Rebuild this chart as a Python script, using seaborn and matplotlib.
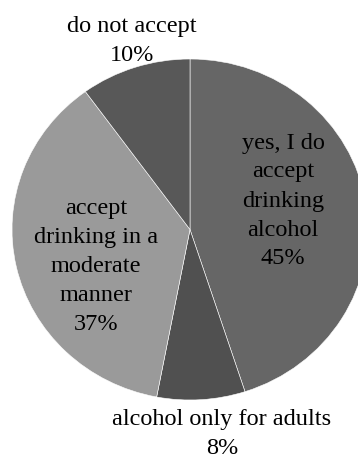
import matplotlib
matplotlib.use("Agg")
import matplotlib.pyplot as plt
import seaborn as sns

# Survey answers, clockwise from the top
answers = ["yes, I do\naccept\ndrinking\nalcohol",
           "alcohol only for adults",
           "accept\ndrinking in a\nmoderate\nmanner",
           "do not accept"]
shares = [45, 8, 37, 10]
greys = ["#666666", "#505050", "#9a9a9a", "#585858"]

# label centres in figure pixels (x from left, y from top)
label_pos = [(283, 201), (222, 434), (96, 266.5), (132, 41)]

sns.set_theme(style="white")
plt.rcParams["font.family"] = ["Liberation Serif", "DejaVu Serif"]

W, H = 358, 459
fig = plt.figure(figsize=(W / 100, H / 100), dpi=100)
fig.patch.set_facecolor("white")

# pie box: centre (190, 229.5) px, radii 178 x 170.5 px
cx, cy, rx, ry = 190, 229.5, 178, 170.5
ax = fig.add_axes([(cx - rx) / W, (H - (cy + ry)) / H, 2 * rx / W, 2 * ry / H])
palette = sns.color_palette(greys)
ax.pie(shares, colors=palette, startangle=90, counterclock=False,
       wedgeprops=dict(edgecolor="white", linewidth=0.4))
ax.set_aspect("auto")
ax.set_xlim(-1, 1)
ax.set_ylim(-1, 1)
ax.axis("off")

for name, val, (px, py) in zip(answers, shares, label_pos):
    ax.text((px - cx) / rx, (cy - py) / ry, f"{name}\n{val}%",
            ha="center", va="center", multialignment="center",
            fontsize=17.5, color="black", linespacing=1.5, clip_on=False)

fig.savefig("out.png", dpi=100, facecolor="white")
